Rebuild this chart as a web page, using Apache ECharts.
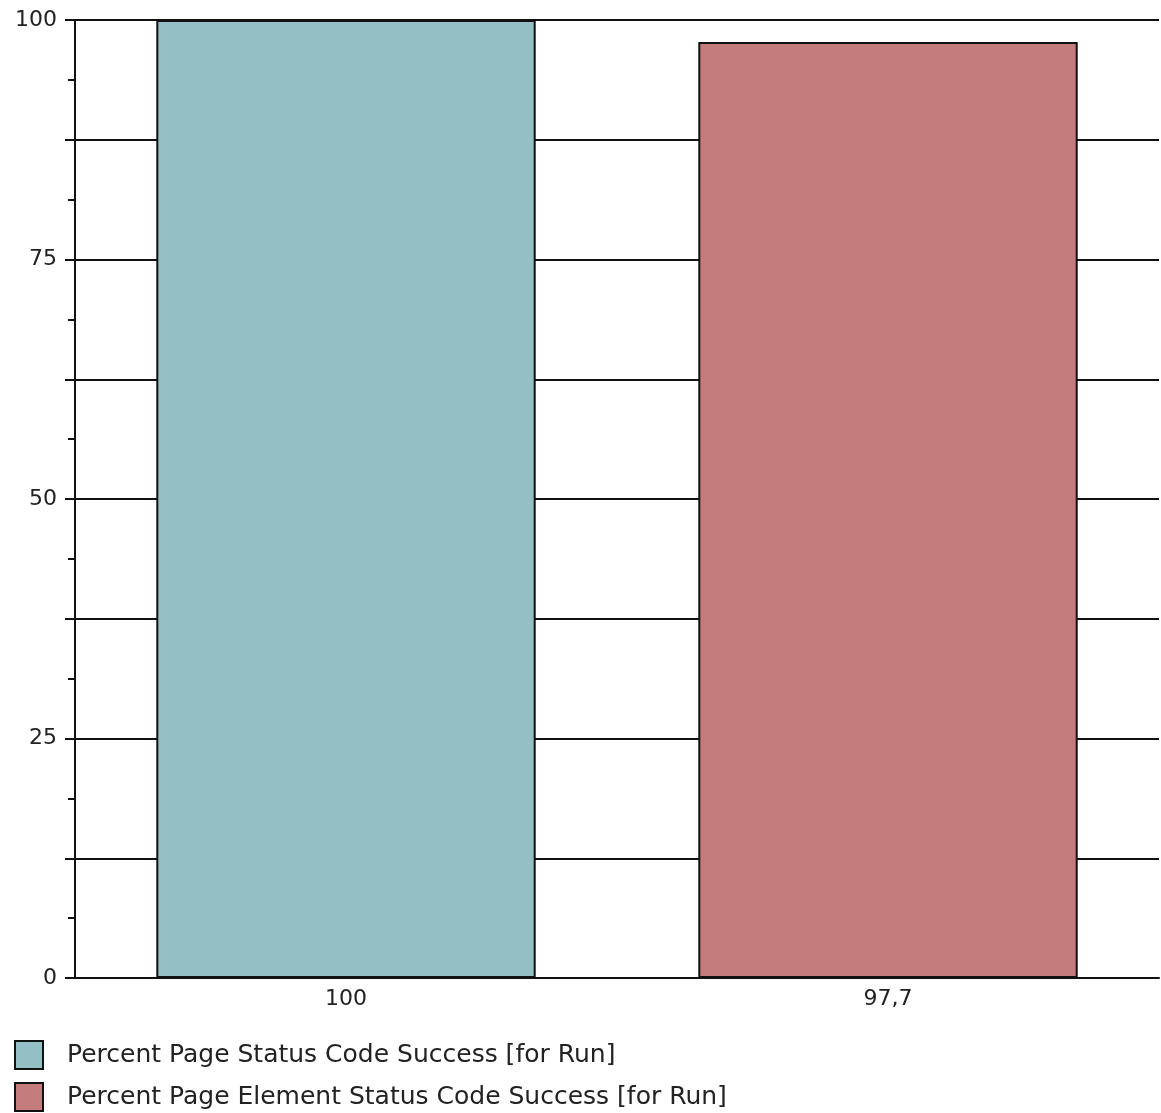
<!DOCTYPE html>
<html>
<head>
<meta charset="utf-8">
<script src="https://cdn.jsdelivr.net/npm/echarts@6/dist/echarts.min.js"></script>
<style>html,body{margin:0;padding:0;background:#fff;}#c{width:1161px;height:1113px;}</style>
</head>
<body>
<div id="c"></div>
<script>
var categories = ['100', '97,7'];
var seriesNames = ['Percent Page Status Code Success [for Run]', 'Percent Page Element Status Code Success [for Run]'];
var pageStatus = [100, '-'];
var elementStatus = ['-', 97.7];
var yTickLabels = [0, 25, 50, 75, 100];

var font = 'DejaVu Sans';
var chart = echarts.init(document.getElementById('c'));
chart.setOption({
  backgroundColor: '#fff',
  animation: false,
  grid: { left: 75, right: 2, top: 20, bottom: 135 },
  legend: {
    orient: 'vertical', left: 14, top: 1040, padding: 0,
    itemWidth: 28, itemHeight: 28, itemGap: 12,
    icon: 'rect',
    textStyle: { fontFamily: font, fontSize: 25, color: '#222', padding: [0, 0, 0, 19] },
    data: seriesNames
  },
  xAxis: {
    type: 'category', data: categories,
    axisLine: { lineStyle: { color: '#111', width: 2 } },
    axisTick: { show: false },
    axisLabel: { fontFamily: font, fontSize: 22, color: '#222', margin: 10 }
  },
  yAxis: {
    type: 'value', min: 0, max: 100, interval: 12.5,
    axisLine: { show: true, lineStyle: { color: '#111', width: 2 } },
    axisTick: { show: true, length: 10, lineStyle: { color: '#111', width: 2 } },
    minorTick: { show: true, splitNumber: 2, length: 7, lineStyle: { color: '#111', width: 2 } },
    splitLine: { show: true, lineStyle: { color: '#111', width: 2 } },
    axisLabel: {
      fontFamily: font, fontSize: 22, color: '#222', margin: 18,
      formatter: function (v) { return yTickLabels.indexOf(v) >= 0 ? String(v) : ''; }
    }
  },
  series: [
    { name: seriesNames[0], type: 'bar', stack: 's', barWidth: '70%', data: pageStatus,
      itemStyle: { color: '#94C0C5', borderColor: '#111', borderWidth: 2 } },
    { name: seriesNames[1], type: 'bar', stack: 's', barWidth: '70%', data: elementStatus,
      itemStyle: { color: '#C47B7C', borderColor: '#111', borderWidth: 2 } }
  ]
});
</script>
</body>
</html>
